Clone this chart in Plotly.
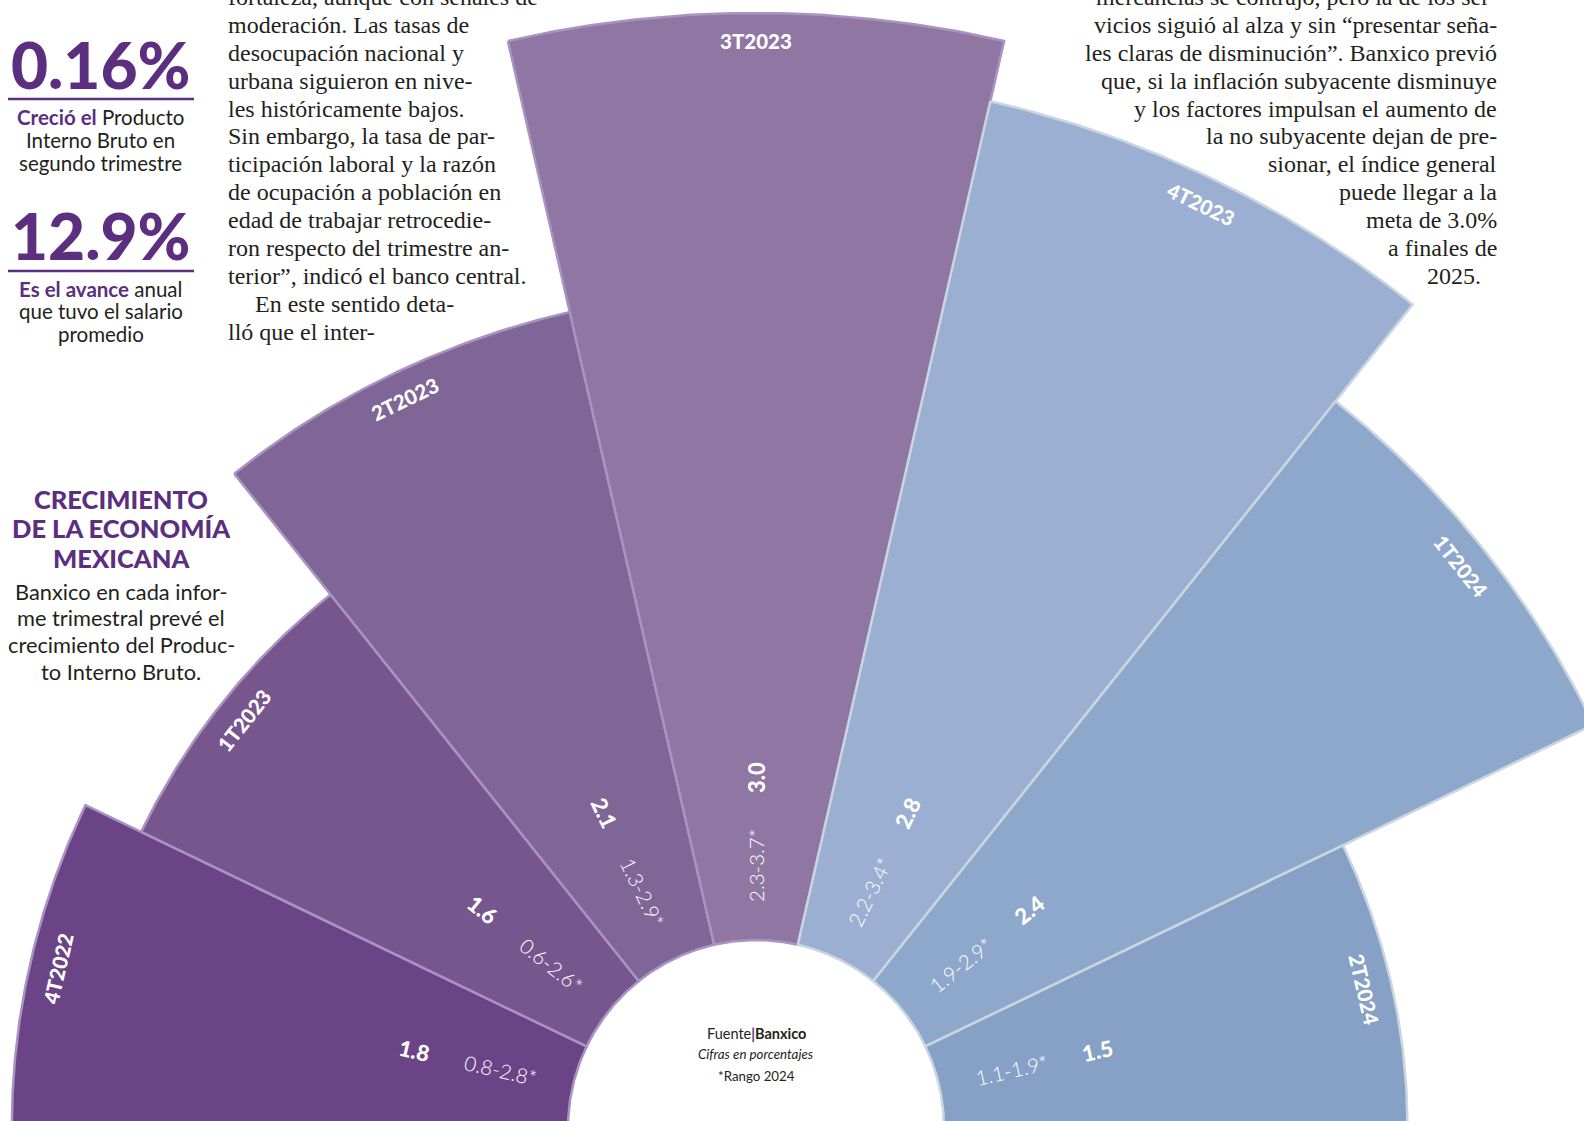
import numpy as np
import plotly.graph_objects as go

W, H = 1584, 1121

# ---------------- data ----------------
quarters = ["4T2022", "1T2023", "2T2023", "3T2023", "4T2023", "1T2024", "2T2024"]
forecast = [1.8, 1.6, 2.1, 3.0, 2.8, 2.4, 1.5]
range_2024 = ["0.8-2.8*", "0.6-2.6*", "1.3-2.9*", "2.3-3.7*", "2.2-3.4*", "1.9-2.9*", "1.1-1.9*"]
bar_colors = ["#6b4487", "#77568e", "#806597", "#9077a3", "#9aafd1", "#8ea8cc", "#86a0c6"]
edge_colors = ["#a893c3", "#a893c3", "#a893c3", "#a893c3", "#c9d6e0", "#c9d6e0", "#c9d6e0"]

left_article = [
    "fortaleza, aunque con señales de",
    "moderación. Las tasas de",
    "desocupación nacional y",
    "urbana siguieron en nive-",
    "les históricamente bajos.",
    "Sin embargo, la tasa de par-",
    "ticipación laboral y la razón",
    "de ocupación a población en",
    "edad de trabajar retrocedie-",
    "ron respecto del trimestre an-",
    "terior”, indicó el banco central.",
    "    En este sentido deta-",
    "lló que el inter-",
]
right_article = [
    "mercancías se contrajo, pero la de los ser-",
    "vicios siguió al alza y sin “presentar seña-",
    "les claras de disminución”. Banxico previó",
    "que, si la inflación subyacente disminuye",
    "y los factores impulsan el aumento de",
    "la no subyacente dejan de pre-",
    "sionar, el índice general",
    "puede llegar a la",
    "meta de 3.0%",
    "a finales de",
    "2025.",
]

PURPLE = "#5b2e80"
INK = "#231f20"

# ---------------- geometry (axis units = pixels) ----------------
n = len(quarters)
step = 180.0 / n
theta = [180 - (i + 0.5) * step for i in range(n)]

CX, CY = 756, 1128        # centre of the fan (just below the bottom edge)
HOLE = 188                # hole radius
SCALE = 309               # axis units per percentage point


def radius(v):
    return HOLE + SCALE * v


def polar_xy(r, th):
    t = np.deg2rad(th)
    return CX + r * np.cos(t), CY - r * np.sin(t)


fig = go.Figure()
for i in range(n):
    arc = np.linspace(theta[i] + step / 2, theta[i] - step / 2, 90)
    r_out = radius(forecast[i])
    xo, yo = polar_xy(r_out, arc)
    xi, yi = polar_xy(HOLE, arc[::-1])
    xs = np.concatenate([xo, xi, xo[:1]])
    ys = np.concatenate([yo, yi, yo[:1]])
    fig.add_trace(go.Scatter(
        x=xs, y=ys, mode="lines", fill="toself",
        fillcolor=bar_colors[i], line=dict(color=edge_colors[i], width=2.5),
        hoverinfo="skip", name=quarters[i],
    ))

fig.update_layout(
    width=W, height=H,
    margin=dict(l=0, r=0, t=0, b=0),
    paper_bgcolor="white", plot_bgcolor="white",
    showlegend=False,
    xaxis=dict(range=[0, W], visible=False, fixedrange=True),
    yaxis=dict(range=[H, 0], visible=False, fixedrange=True),
)


def px(x):
    return x / W


def py(y):
    return 1 - y / H


ann = []
for q, v, rg, th in zip(quarters, forecast, range_2024, theta):
    x, y = polar_xy(radius(v) - 28, th)
    ann.append(dict(x=px(x), y=py(y), xref="paper", yref="paper", text=q,
                    textangle=90 - th, showarrow=False,
                    xanchor="center", yanchor="middle",
                    font=dict(family="Lato", size=20.5, color="white", weight=900)))
    ang = (180 - th) if th > 90.5 else -th
    x, y = polar_xy(350, th)
    ann.append(dict(x=px(x), y=py(y), xref="paper", yref="paper", text=f"{v:.1f}",
                    textangle=ang, showarrow=False,
                    xanchor="center", yanchor="middle",
                    font=dict(family="Lato", size=22, color="white", weight=900)))
    x, y = polar_xy(262, th)
    ann.append(dict(x=px(x), y=py(y), xref="paper", yref="paper", text=rg,
                    textangle=ang, showarrow=False,
                    xanchor="center", yanchor="middle",
                    font=dict(family="Lato", size=20.5, color="white", weight=300)))


def txt(x, y, s, size, color=INK, family="Lato", weight=400, xanchor="center"):
    ann.append(dict(x=px(x), y=py(y), xref="paper", yref="paper", text=s,
                    showarrow=False, xanchor=xanchor, yanchor="middle",
                    font=dict(family=family, size=size, color=color, weight=weight)))


# left article column
for i, line in enumerate(left_article):
    xx, s = 226, line
    if line.startswith("    "):
        xx, s = 253, line.strip()
    txt(xx, -3 + 27.9 * i, s, 24, family="Liberation Serif", xanchor="left")

# right article column
for i, line in enumerate(right_article):
    xx = 1499 if line != "2025." else 1483
    txt(xx, -3 + 27.9 * i, line, 24, family="Liberation Serif", xanchor="right")

# side panel
txt(101, 64, "0.16%", 64, color=PURPLE, weight=900)
txt(101, 117, f"<b><span style='color:{PURPLE}'>Creció el</span></b> Producto", 20.5)
txt(101, 140, "Interno Bruto en", 20.5)
txt(101, 163, "segundo trimestre", 20.5)
txt(101, 235, "12.9%", 64, color=PURPLE, weight=900)
txt(101, 289, f"<b><span style='color:{PURPLE}'>Es el avance</span></b> anual", 20.5)
txt(101, 311, "que tuvo el salario", 20.5)
txt(101, 334, "promedio", 20.5)

txt(121, 499, "CRECIMIENTO", 25.5, color=PURPLE, weight=900)
txt(121, 528, "DE LA ECONOMÍA", 25.5, color=PURPLE, weight=900)
txt(121, 558, "MEXICANA", 25.5, color=PURPLE, weight=900)
txt(121, 591, "Banxico en cada infor-", 21.8)
txt(121, 617, "me trimestral prevé el", 21.8)
txt(121, 644, "crecimiento del Produc-", 21.8)
txt(121, 671, "to Interno Bruto.", 21.8)

# centre notes
txt(756, 1033, f"Fuente<span style='color:{PURPLE}'><b>|</b></span><b>Banxico</b>", 14.5)
txt(756, 1054, "<i>Cifras en porcentajes</i>", 13.3)
txt(756, 1076, "*Rango 2024", 13.3)

fig.update_layout(annotations=ann, shapes=[
    dict(type="line", xref="paper", yref="paper", x0=px(8), x1=px(194), y0=py(99), y1=py(99),
         line=dict(color=PURPLE, width=2.5)),
    dict(type="line", xref="paper", yref="paper", x0=px(8), x1=px(194), y0=py(271), y1=py(271),
         line=dict(color=PURPLE, width=2.5)),
])

fig.write_html("out.html", config={"displayModeBar": False},
               post_script="document.body.style.margin='0';document.body.style.overflow='hidden';")
